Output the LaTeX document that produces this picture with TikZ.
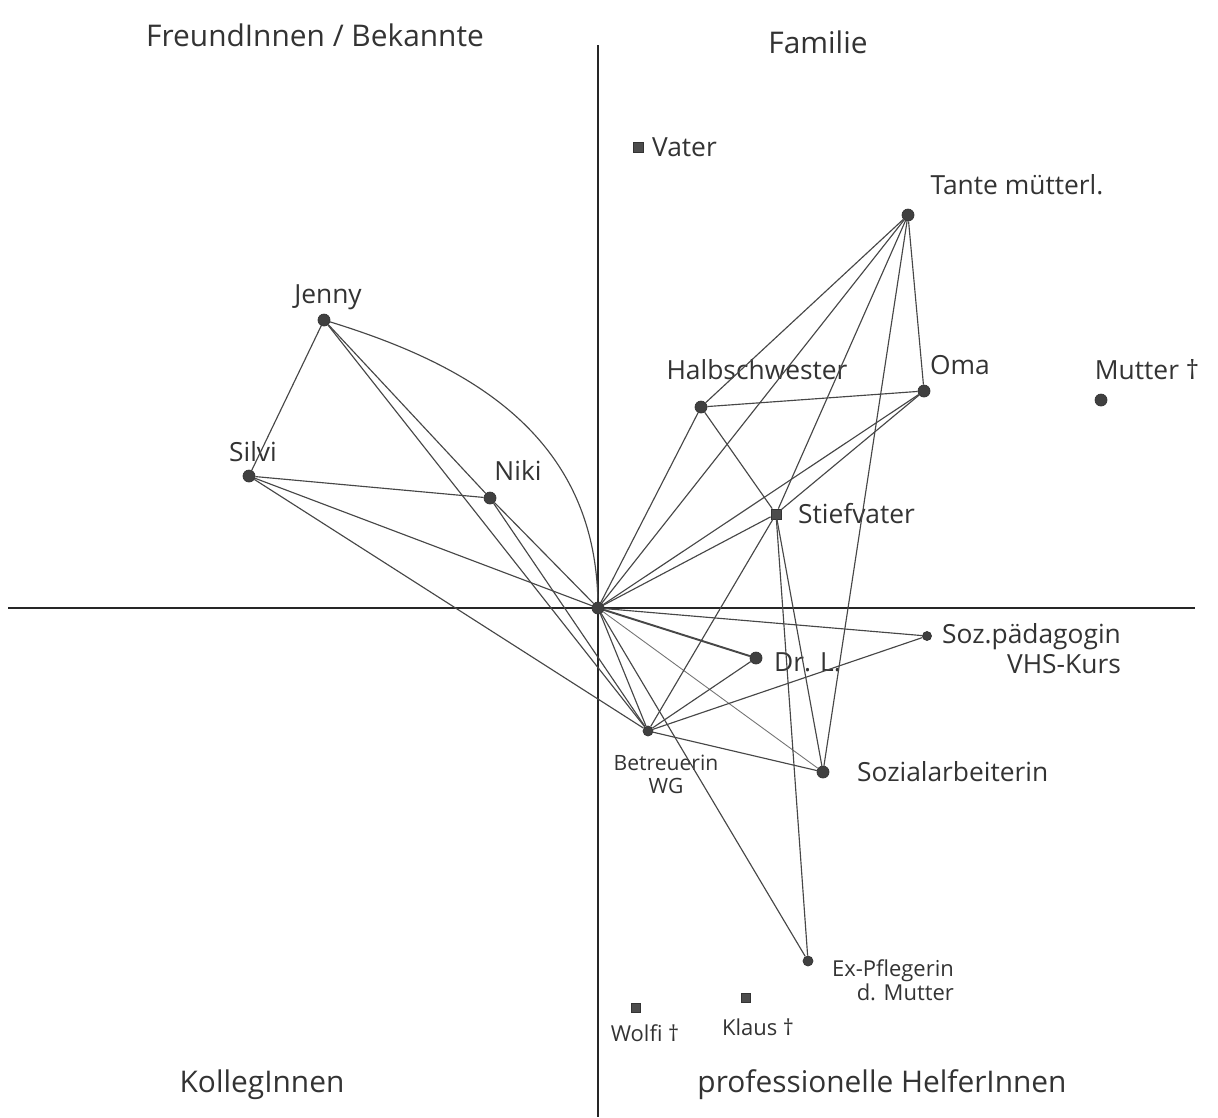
\documentclass[tikz,border=0pt]{standalone}
\usepackage{fontspec}
\setmainfont{Open Sans}
\usepackage{tikz}

\begin{document}
\begin{tikzpicture}[x=0.02cm,y=-0.02cm,
		person/.style={shape=circle,fill=black!75,draw=black!80,inner sep=0pt,minimum size=0.24cm},
		square/.style={shape=rectangle,fill=black!70,draw=black!80,inner sep=0pt,minimum size=0.2cm},
		lbl/.style={font=\fontsize{15}{17}\selectfont,text=black!80,inner sep=1pt},
		sector/.style={font=\fontsize{17}{19}\selectfont,text=black!80},
		rel/.style={draw=black!72,line width=0.65pt},
		axis/.style={draw=black!85,line width=1.1pt}]
				\useasboundingbox (0,0) rectangle (1218,1117);
				
				% axes
				\coordinate (west) at (8,608);
				\coordinate (east) at (1195,608);
				\coordinate (north) at (598,45);
				\coordinate (south) at (598,1117);
				\draw[axis] (west) -- (east);
				\draw[axis] (north) -- (south);
				
				% sectors
				\node[sector] (freunde) at (315,35) {FreundInnen / Bekannte};
				\node[sector] (familie) at (818,42) {Familie};
				\node[sector] (kollegen) at (262,1085) {KollegInnen};
				\node[sector] (helfer) at (882,1085) {professionelle HelferInnen};
				
				% persons
				\node[person] (ego) at (598,608) {};
				\node[square] (vater) at (638,147) {};
				\node[person] (tante) at (908,215) {};
				\node[person] (oma) at (924,391) {};
				\node[person] (mutter) at (1101,400) {};
				\node[person] (halb) at (701,407) {};
				\node[square] (stief) at (776,514) {};
				\node[person,minimum size=0.18cm] (sozpaed) at (927,636) {};
				\node[person] (drl) at (756,658) {};
				\node[person,minimum size=0.2cm] (betr) at (648,731) {};
				\node[person] (sozarb) at (823,772) {};
				\node[person,minimum size=0.2cm] (expfl) at (808,961) {};
				\node[square,minimum size=0.17cm] (wolfi) at (636,1008) {};
				\node[square,minimum size=0.17cm] (klaus) at (746,998) {};
				\node[person] (jenny) at (324,320) {};
				\node[person] (silvi) at (249,476) {};
				\node[person] (niki) at (490,498) {};
				
				% names
				\node[lbl,anchor=west] (vaterL) at (650,147) {Vater};
				\node[lbl] (tanteL) at (1017,185) {Tante mütterl.};
				\node[lbl] (omaL) at (960,365) {Oma};
				\node[lbl] (mutterL) at (1147,370) {Mutter †};
				\node[lbl] (halbL) at (757,370) {Halbschwester};
				\node[lbl,anchor=west] (stiefL) at (796,514) {Stiefvater};
				\node[lbl,anchor=west,align=right] (sozpaedL) at (940,649) {Soz.pädagogin\\VHS-Kurs};
				\node[lbl,anchor=west] (drlL) at (772,662) {Dr. L.};
				\node[lbl,align=center,font=\fontsize{12}{13}\selectfont] (betrL) at (666,774) {Betreuerin\\WG};
				\node[lbl,anchor=west] (sozarbL) at (855,772) {Sozialarbeiterin};
				\node[lbl,align=right,anchor=west,font=\fontsize{12.5}{13.5}\selectfont] (expflL) at (830,980) {Ex-Pflegerin\\d. Mutter};
				\node[lbl,font=\fontsize{12.5}{13.5}\selectfont] (wolfiL) at (645,1033) {Wolfi †};
				\node[lbl,font=\fontsize{12.5}{13.5}\selectfont] (klausL) at (758,1027) {Klaus †};
				\node[lbl] (jennyL) at (328,297) {Jenny};
				\node[lbl] (silviL) at (253,452) {Silvi};
				\node[lbl] (nikiL) at (518,470) {Niki};
				
				% friends
				\path[rel] (jenny) edge (silvi);
				\path[rel] (jenny) edge (niki);
				\path[rel] (jenny) edge (betr);
				\draw[rel] (jenny) .. controls (460,362) and (595,430) .. (ego);
				\path[rel] (silvi) edge (niki);
				\path[rel] (silvi) edge (ego);
				\path[rel] (silvi) edge (betr);
				\path[rel] (niki) edge (ego);
				\path[rel] (niki) edge (betr);
				
				% family
				\path[rel] (ego) edge (halb);
				\path[rel] (ego) edge (tante);
				\path[rel] (ego) edge (oma);
				\path[rel] (ego) edge (stief);
				\path[rel] (tante) edge (halb);
				\path[rel] (tante) edge (oma);
				\path[rel] (tante) edge (stief);
				\path[rel] (tante) edge (sozarb);
				\path[rel] (halb) edge (oma);
				\path[rel] (halb) edge (stief);
				\path[rel] (oma) edge (stief);
				
				% helpers
				\path[rel,line width=1.1pt] (ego) edge (drl);
				\path[rel] (ego) edge (sozpaed);
				\path[rel,draw=black!55,line width=0.5pt] (ego) edge (sozarb);
				\path[rel] (ego) edge (betr);
				\path[rel] (ego) edge (expfl);
				\path[rel] (stief) edge (betr);
				\path[rel] (stief) edge (sozarb);
				\path[rel] (stief) edge (expfl);
				\path[rel] (betr) edge (drl);
				\path[rel] (betr) edge (sozpaed);
				\path[rel] (betr) edge (sozarb);
			\end{tikzpicture}
\end{document}
